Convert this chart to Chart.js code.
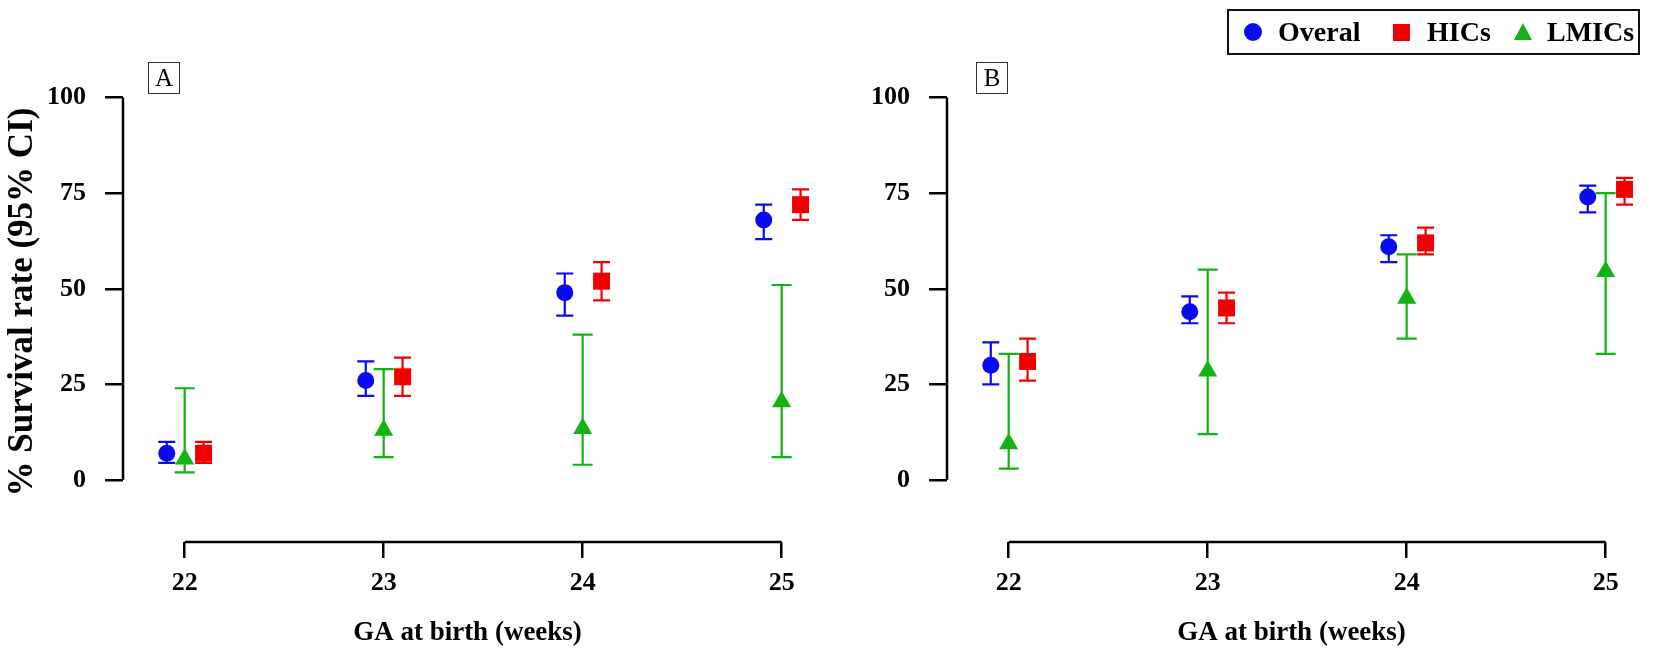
<!DOCTYPE html>
<html>
<head>
<meta charset="utf-8">
<script src="https://cdn.jsdelivr.net/npm/chart.js@4.4.1/dist/chart.umd.min.js"></script>
<style>
  body { margin: 0; background: #fff; width: 1654px; height: 656px; position: relative; overflow: hidden; font-family: "Liberation Serif", serif; }
  canvas { position: absolute; top: 0; }
  #canvaA { left: 0; }
  #canvaB { left: 824px; }
  .panel { position: absolute; top: 62px; width: 30px; height: 30px; border: 1px solid #333; font-size: 25px; line-height: 30px; text-align: center; }
  #legend { position: absolute; left: 1227px; top: 9px; width: 409px; height: 42px; border: 2px solid #111; }
  #legend .it { position: absolute; top: 0; height: 42px; line-height: 42px; font-size: 28px; font-weight: bold; }
  #legend .mk { position: absolute; }
</style>
</head>
<body>
<canvas id="canvaA" width="824" height="656"></canvas>
<canvas id="canvaB" width="824" height="656"></canvas>
<div class="panel" style="left:148px">A</div>
<div class="panel" style="left:976px">B</div>
<div id="legend">
  <div class="mk" style="left:15px;top:12px;width:18px;height:18px;border-radius:50%;background:#0a0af0"></div>
  <div class="it" style="left:49px">Overal</div>
  <div class="mk" style="left:164px;top:13px;width:17px;height:17px;background:#f00000"></div>
  <div class="it" style="left:198px">HICs</div>
  <div class="mk" style="left:285px;top:12px;width:0;height:0;border-left:9.5px solid transparent;border-right:9.5px solid transparent;border-bottom:17px solid #12b312"></div>
  <div class="it" style="left:318px">LMICs</div>
</div>
<script>
// GA weeks and y ticks
const weeks = [22, 23, 24, 25]
const yTicks = [0, 25, 50, 75, 100]

// panel A - survival rate (%) with 95% CI
const overallA = [7, 26, 49, 68]
const overallA_lo = [4.5, 22, 43, 63]
const overallA_hi = [10, 31, 54, 72]
const hicsA = [7, 27, 52, 72]
const hicsA_lo = [4.5, 22, 47, 68]
const hicsA_hi = [10, 32, 57, 76]
const lmicsA = [5.5, 13, 13.5, 20.5]
const lmicsA_lo = [2, 6, 4, 6]
const lmicsA_hi = [24, 29, 38, 51]

// panel B
const overallB = [30, 44, 61, 74]
const overallB_lo = [25, 41, 57, 70]
const overallB_hi = [36, 48, 64, 77]
const hicsB = [31, 45, 62, 76]
const hicsB_lo = [26, 41, 59, 72]
const hicsB_hi = [37, 49, 66, 79]
const lmicsB = [9.5, 28.5, 47.5, 54.5]
const lmicsB_lo = [3, 12, 37, 33]
const lmicsB_hi = [33, 55, 59, 75]

const blue = "#0a0af0"
const red = "#f00000"
const green = "#12b312"
const font = "Liberation Serif"

function pts(vals, shift) {
    return weeks.map((w, i) => ({x: w + shift, y: vals[i]}))
}

// draws the CI whiskers
const errorBars = {
    id: "errorBars",
    beforeDatasetsDraw(chart) {
        const ctx = chart.ctx
        const ys = chart.scales.y
        chart.data.datasets.forEach((ds, di) => {
            const meta = chart.getDatasetMeta(di)
            ctx.save()
            ctx.strokeStyle = ds.borderColor
            ctx.lineWidth = 2.2
            meta.data.forEach((pt, i) => {
                const top = ys.getPixelForValue(ds.hi[i])
                const bot = ys.getPixelForValue(ds.lo[i])
                const w = ds.cap
                ctx.beginPath()
                ctx.moveTo(pt.x, top); ctx.lineTo(pt.x, bot)
                ctx.moveTo(pt.x - w, top); ctx.lineTo(pt.x + w, top)
                ctx.moveTo(pt.x - w, bot); ctx.lineTo(pt.x + w, bot)
                ctx.stroke()
            })
            ctx.restore()
        })
    }
}

// R style detached axis lines
const axisLines = {
    id: "axisLines",
    afterDraw(chart) {
        const ctx = chart.ctx
        const xs = chart.scales.x, ys = chart.scales.y
        const a = chart.chartArea
        ctx.save()
        ctx.strokeStyle = "#000"
        ctx.lineWidth = 2.5
        ctx.beginPath()
        ctx.moveTo(a.left, ys.getPixelForValue(yTicks[0]))
        ctx.lineTo(a.left, ys.getPixelForValue(yTicks[yTicks.length - 1]))
        ctx.moveTo(xs.getPixelForValue(weeks[0]), a.bottom)
        ctx.lineTo(xs.getPixelForValue(weeks[weeks.length - 1]), a.bottom)
        ctx.stroke()
        ctx.restore()
    }
}

function makeChart(canva, o, oLo, oHi, h, hLo, hHi, l, lLo, lHi, showYTitle) {
    return new Chart(canva, {
        type: "scatter",
        data: {
            datasets: [
                {label: "Overal", data: pts(o, -0.09), lo: oLo, hi: oHi, cap: 8.5,
                 pointStyle: "circle", pointRadius: 8.5, backgroundColor: blue, borderColor: blue, borderWidth: 0},
                {label: "HICs", data: pts(h, 0.095), lo: hLo, hi: hHi, cap: 8.5,
                 pointStyle: "rect", pointRadius: 12, backgroundColor: red, borderColor: red, borderWidth: 0},
                {label: "LMICs", data: pts(l, 0), lo: lLo, hi: lHi, cap: 10,
                 pointStyle: "triangle", pointRadius: 11, backgroundColor: green, borderColor: green, borderWidth: 0}
            ]
        },
        options: {
            responsive: false,
            animation: false,
            devicePixelRatio: 1,
            layout: {padding: {top: 62, right: 4, bottom: 0, left: 0}},
            plugins: {legend: {display: false}, tooltip: {enabled: false}},
            scales: {
                x: {
                    type: "linear", min: 21.69, max: 25.1525,
                    afterBuildTicks: s => { s.ticks = weeks.map(v => ({value: v})) },
                    afterFit: s => { s.height = 114 },
                    border: {display: false},
                    grid: {drawOnChartArea: false, drawTicks: true, tickLength: 16, color: "#000", lineWidth: 2.5},
                    ticks: {color: "#000", padding: 10, font: {family: font, size: 26, weight: "bold"}},
                    title: {display: true, text: "GA at birth (weeks)", color: "#000", padding: {top: 0, bottom: 7},
                            font: {family: font, size: 27, weight: "bold"}}
                },
                y: {
                    min: -16.2, max: 109.3,
                    afterBuildTicks: s => { s.ticks = yTicks.map(v => ({value: v})) },
                    afterFit: s => { s.width = 123 },
                    border: {display: false},
                    grid: {drawOnChartArea: false, drawTicks: true, tickLength: 18, color: "#000", lineWidth: 2.5},
                    ticks: {color: "#000", padding: 19, font: {family: font, size: 26, weight: "bold"}},
                    title: {display: showYTitle, text: "% Survival rate (95% CI)", color: "#000", padding: {top: 2, bottom: 0},
                            font: {family: font, size: 35, weight: "bold"}}
                }
            }
        },
        plugins: [errorBars, axisLines]
    })
}

const chartA = makeChart(document.querySelector("#canvaA"),
    overallA, overallA_lo, overallA_hi, hicsA, hicsA_lo, hicsA_hi, lmicsA, lmicsA_lo, lmicsA_hi, true)
const chartB = makeChart(document.querySelector("#canvaB"),
    overallB, overallB_lo, overallB_hi, hicsB, hicsB_lo, hicsB_hi, lmicsB, lmicsB_lo, lmicsB_hi, false)
</script>
</body>
</html>
